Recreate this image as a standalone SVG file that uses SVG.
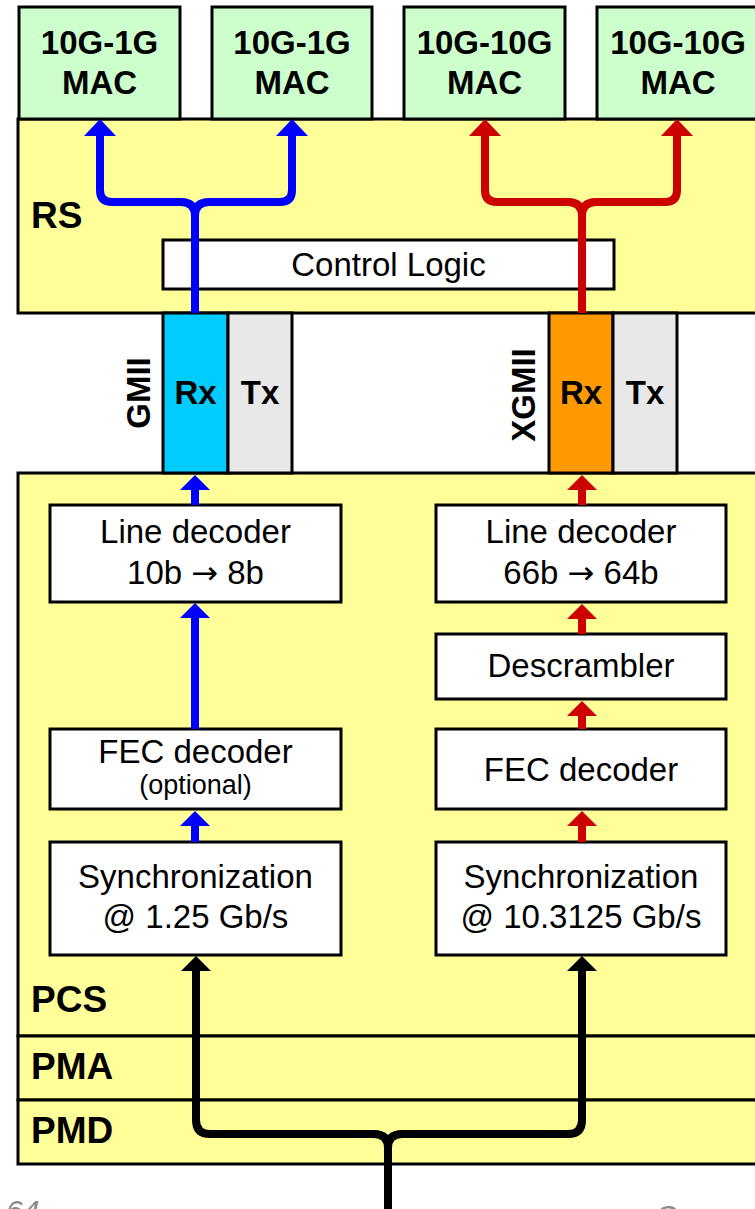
<svg xmlns="http://www.w3.org/2000/svg" width="755" height="1209" viewBox="0 0 755 1209">
<style>
.box{stroke:#000;stroke-width:3}
.t{font-family:"Liberation Sans",Arial,sans-serif;fill:#000;text-anchor:middle}
.n{font-size:33px}
.bl{font-size:33px;font-weight:bold}
.ar{font-family:"DejaVu Sans",sans-serif;font-size:32px}
.lay{font-family:"Liberation Sans",Arial,sans-serif;font-size:37px;font-weight:bold}
.ln{fill:none;stroke-width:8;stroke-linejoin:round}
.pg{font-family:"Liberation Sans",Arial,sans-serif;font-size:30px;font-style:italic;fill:#888}
</style>
<rect width="755" height="1209" fill="#fff"/>
<g id="layer-rs">
<rect class="box" x="18" y="119" width="745" height="194" fill="#FFFF99"/>
<text class="lay" x="31" y="228">RS</text>
</g>
<g id="layer-pcs">
<rect class="box" x="18" y="473" width="745" height="563" fill="#FFFF99"/>
<text class="lay" x="31" y="1012">PCS</text>
</g>
<g id="layer-pma">
<rect class="box" x="18" y="1036" width="745" height="64" fill="#FFFF99"/>
<text class="lay" x="31" y="1079">PMA</text>
</g>
<g id="layer-pmd">
<rect class="box" x="18" y="1100" width="745" height="64" fill="#FFFF99"/>
<text class="lay" x="31" y="1143">PMD</text>
</g>
<g id="mac1"><rect class="box" x="19" y="7" width="161" height="112" fill="#CCFFCC"/><text class="t bl" x="99.5" y="54">10G-1G</text><text class="t bl" x="99.5" y="94">MAC</text></g>
<g id="mac2"><rect class="box" x="212" y="7" width="160" height="112" fill="#CCFFCC"/><text class="t bl" x="292" y="54">10G-1G</text><text class="t bl" x="292" y="94">MAC</text></g>
<g id="mac3"><rect class="box" x="404" y="7" width="161" height="112" fill="#CCFFCC"/><text class="t bl" x="484.5" y="54">10G-10G</text><text class="t bl" x="484.5" y="94">MAC</text></g>
<g id="mac4"><rect class="box" x="597" y="7" width="170" height="112" fill="#CCFFCC"/><text class="t bl" x="678" y="54">10G-10G</text><text class="t bl" x="678" y="94">MAC</text></g>
<g id="control-logic"><rect class="box" x="163" y="240" width="451" height="49" fill="#fff"/><text class="t n" x="388.5" y="276">Control Logic</text></g>
<g id="gmii">
<rect class="box" x="163" y="313" width="65" height="160" fill="#00CCFF"/>
<rect class="box" x="228" y="313" width="64" height="160" fill="#E8E8E8"/>
<text class="t bl" x="195.5" y="404">Rx</text>
<text class="t bl" x="260" y="404">Tx</text>
<text class="t bl" transform="translate(150,393) rotate(-90)" x="0" y="0">GMII</text>
</g>
<g id="xgmii">
<rect class="box" x="549" y="313" width="64" height="160" fill="#FF9900"/>
<rect class="box" x="613" y="313" width="64" height="160" fill="#E8E8E8"/>
<text class="t bl" x="581" y="404">Rx</text>
<text class="t bl" x="645" y="404">Tx</text>
<text class="t bl" transform="translate(535,395) rotate(-90)" x="0" y="0">XGMII</text>
</g>
<g id="line-dec-1g"><rect class="box" x="50" y="505" width="291" height="97" fill="#fff"/><text class="t n" x="195.5" y="543">Line decoder</text><text class="t n" x="195.5" y="584">10b <tspan class="ar">→</tspan> 8b</text></g>
<g id="fec-1g"><rect class="box" x="50" y="729" width="291" height="80" fill="#fff"/><text class="t n" x="195.5" y="763">FEC decoder</text><text class="t" style="font-size:27px" x="195.5" y="794">(optional)</text></g>
<g id="sync-1g"><rect class="box" x="50" y="842" width="291" height="113" fill="#fff"/><text class="t n" x="195.5" y="888">Synchronization</text><text class="t n" x="195.5" y="928">@ 1.25 Gb/s</text></g>
<g id="line-dec-10g"><rect class="box" x="436" y="505" width="290" height="97" fill="#fff"/><text class="t n" x="581" y="543">Line decoder</text><text class="t n" x="581" y="584">66b <tspan class="ar">→</tspan> 64b</text></g>
<g id="descrambler"><rect class="box" x="436" y="634" width="290" height="65" fill="#fff"/><text class="t n" x="581" y="677">Descrambler</text></g>
<g id="fec-10g"><rect class="box" x="436" y="729" width="290" height="80" fill="#fff"/><text class="t n" x="581" y="781">FEC decoder</text></g>
<g id="sync-10g"><rect class="box" x="436" y="842" width="290" height="113" fill="#fff"/><text class="t n" x="581" y="888">Synchronization</text><text class="t n" x="581" y="928">@ 10.3125 Gb/s</text></g>
<g id="connectors">
<g stroke="#0000FF" fill="#0000FF">
<path class="ln" d="M195,313 V216 Q195,202 181,202 H112 Q100,202 100,190 V134"/>
<path class="ln" d="M195,216 Q195,202 209,202 H280 Q292,202 292,190 V134"/>
<polygon stroke="none" points="100,119 84,136 116,136"/>
<polygon stroke="none" points="292,119 276,136 308,136"/>
<path class="ln" d="M195,505 V488"/><polygon stroke="none" points="195,475 180,490 210,490"/>
<path class="ln" d="M195,729 V615"/><polygon stroke="none" points="195,603 180,618 210,618"/>
<path class="ln" d="M195,842 V824"/><polygon stroke="none" points="195,811 180,826 210,826"/>
</g>
<g stroke="#CC0000" fill="#CC0000">
<path class="ln" d="M582,313 V216 Q582,202 568,202 H497 Q485,202 485,190 V134"/>
<path class="ln" d="M582,216 Q582,202 596,202 H665 Q677,202 677,190 V134"/>
<polygon stroke="none" points="485,119 469,136 501,136"/>
<polygon stroke="none" points="677,119 661,136 693,136"/>
<path class="ln" d="M582,505 V488"/><polygon stroke="none" points="582,475 567,490 597,490"/>
<path class="ln" d="M582,634 V617"/><polygon stroke="none" points="582,604 567,619 597,619"/>
<path class="ln" d="M582,729 V714"/><polygon stroke="none" points="582,701 567,716 597,716"/>
<path class="ln" d="M582,842 V824"/><polygon stroke="none" points="582,811 567,826 597,826"/>
</g>
<g stroke="#000" fill="#000">
<path class="ln" d="M388,1209 V1148 Q388,1134 374,1134 H210 Q196,1134 196,1120 V968"/>
<path class="ln" d="M388,1148 Q388,1134 402,1134 H568 Q582,1134 582,1120 V968"/>
<polygon stroke="none" points="196,956 181,971 211,971"/>
<polygon stroke="none" points="582,956 567,971 597,971"/>
</g>
</g>
<text class="pg" x="6" y="1221">64</text>
<text class="pg" x="655" y="1226">C</text>
</svg>
